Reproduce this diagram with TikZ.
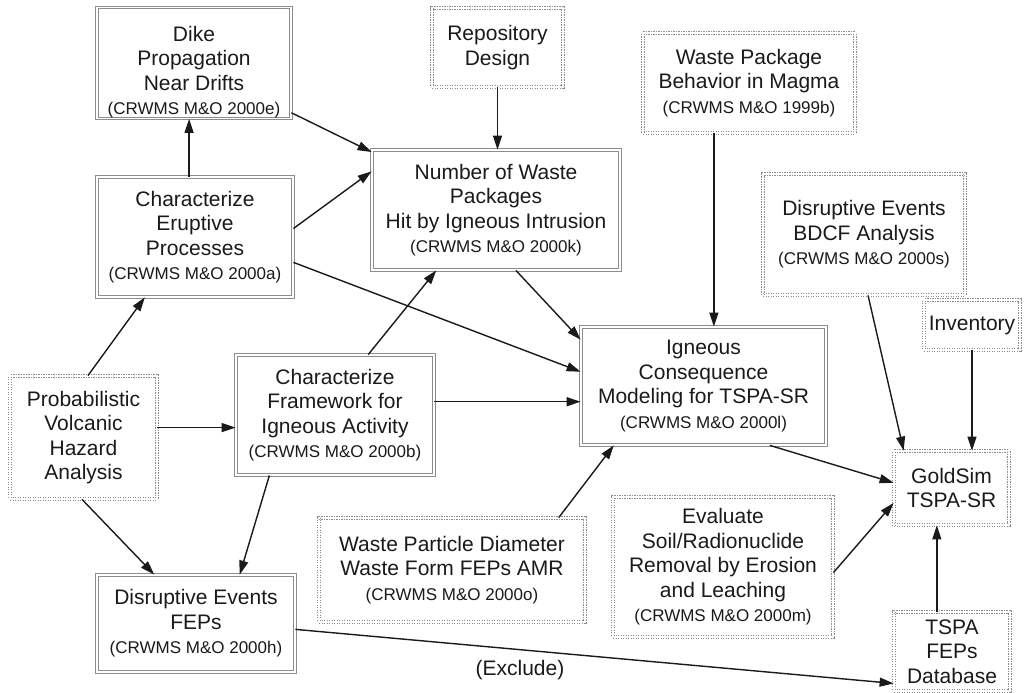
\documentclass[tikz,border=0pt]{standalone}
\usepackage{fontspec}
\setmainfont{Liberation Sans}
\usetikzlibrary{arrows.meta,calc}
\definecolor{boxgray}{HTML}{8C8C8C}
\definecolor{txt}{HTML}{1A1A1A}
\newcommand\mfont{\fontsize{21}{24.5}\selectfont}
\newcommand\cfont{\fontsize{17}{24.5}\selectfont}
\tikzset{
  bx/.style={draw=boxgray, double=white, double distance=1.6pt, line width=0.8pt,
    align=center, inner sep=0pt, font=\mfont, text=txt},
  solidbox/.style={bx},
  dotbox/.style={bx, dash pattern=on 1.2pt off 1.3pt},
  arr/.style={line width=1.4pt, draw=txt, -{Triangle[length=14pt,width=9pt]}},
}
\begin{document}
\begin{tikzpicture}[x=1pt,y=-1pt]
\fill[white] (0,0) rectangle (1026,693);
\useasboundingbox (0,0) rectangle (1026,693);

\node[solidbox, minimum width=194pt, minimum height=110pt] (dike) at (194,63)
  {\rule{0pt}{34pt}Dike\\Propagation\\Near Drifts\\\cfont(CRWMS M\&O 2000e)};
\node[dotbox, minimum width=131pt, minimum height=79pt] (repo) at (497.5,47.5)
  {Repository\\Design};
\node[dotbox, minimum width=212pt, minimum height=100pt] (wpb) at (749,83)
  {Waste Package\\Behavior in Magma\\\cfont(CRWMS M\&O 1999b)};
\node[solidbox, minimum width=196pt, minimum height=120pt] (erupt) at (195,237)
  {Characterize\\Eruptive\\Processes\\\cfont(CRWMS M\&O 2000a)};
\node[solidbox, minimum width=248pt, minimum height=120pt] (number) at (496,210)
  {Number of Waste\\Packages\\Hit by Igneous Intrusion\\\cfont(CRWMS M\&O 2000k)};
\node[dotbox, minimum width=202pt, minimum height=121pt] (bdcf) at (864,234.5)
  {Disruptive Events\\BDCF Analysis\\\cfont(CRWMS M\&O 2000s)};
\node[dotbox, minimum width=96pt, minimum height=50pt] (inv) at (972,325)
  {Inventory};
\node[solidbox, minimum width=245pt, minimum height=118pt] (ign) at (703.5,386)
  {Igneous\\Consequence\\Modeling for TSPA-SR\\\cfont(CRWMS M\&O 2000l)};
\node[dotbox, minimum width=147pt, minimum height=123pt] (pvha) at (83.5,437.5)
  {Probabilistic\\Volcanic\\Hazard\\Analysis};
\node[solidbox, minimum width=198pt, minimum height=120pt] (frame) at (335,415)
  {Characterize\\Framework for\\Igneous Activity\\\cfont(CRWMS M\&O 2000b)};
\node[solidbox, minimum width=198pt, minimum height=97pt] (feps) at (196,623.5)
  {Disruptive Events\\FEPs\\\cfont(CRWMS M\&O 2000h)};
\node[dotbox, minimum width=266pt, minimum height=104pt] (wpart) at (452,570)
  {Waste Particle Diameter\\Waste Form FEPs AMR\\\cfont(CRWMS M\&O 2000o)};
\node[dotbox, minimum width=220pt, minimum height=140pt] (eval) at (723,567)
  {Evaluate\\Soil/Radionuclide\\Removal by Erosion\\and Leaching\\\cfont(CRWMS M\&O 2000m)};
\node[dotbox, minimum width=115pt, minimum height=74pt] (gold) at (951.5,488)
  {GoldSim\\TSPA-SR};
\node[dotbox, minimum width=116pt, minimum height=79pt] (db) at (952,651.5)
  {TSPA\\FEPs\\Database};

% connectors
\coordinate (e1) at ($(erupt.north west)!0.47!(erupt.north east)$);
\draw[arr] (e1) -- (e1 |- dike.south);
\draw[arr] ($(dike.north east)!0.945!(dike.south east)$) -- ($(number.north west)!0.02!(number.south west)$);
\draw[arr] ($(erupt.north east)!0.43!(erupt.south east)$) -- ($(number.north west)!0.18!(number.south west)$);
\draw[arr] ($(erupt.north east)!0.71!(erupt.south east)$) -- ($(ign.north west)!0.38!(ign.south west)$);
\draw[arr] ($(number.south west)!0.58!(number.south east)$) -- ($(ign.north west)!0.11!(ign.south west)$);
\draw[arr] (repo.south) -- (repo.south |- number.north);
\coordinate (w1) at ($(wpb.south west)!0.335!(wpb.south east)$);
\draw[arr] (w1) -- (w1 |- ign.north);
\draw[arr] ($(pvha.north west)!0.53!(pvha.north east)$) -- ($(erupt.south west)!0.245!(erupt.south east)$);
\coordinate (p1) at ($(pvha.north east)!0.42!(pvha.south east)$);
\draw[arr] (p1) -- (p1 -| frame.west);
\draw[arr] ($(pvha.south west)!0.49!(pvha.south east)$) -- ($(feps.north west)!0.29!(feps.north east)$);
\draw[arr] ($(frame.north west)!0.667!(frame.north east)$) -- ($(number.south west)!0.26!(number.south east)$);
\draw[arr] ($(frame.south west)!0.17!(frame.south east)$) -- ($(feps.north west)!0.72!(feps.north east)$);
\coordinate (f1) at ($(frame.north east)!0.39!(frame.south east)$);
\draw[arr] (f1) -- (f1 -| ign.west);
\draw[arr] ($(wpart.north west)!0.9!(wpart.north east)$) -- ($(ign.south west)!0.135!(ign.south east)$);
\draw[arr] ($(ign.south west)!0.77!(ign.south east)$) -- ($(gold.north west)!0.43!(gold.south west)$);
\draw[arr] ($(eval.north east)!0.54!(eval.south east)$) -- ($(gold.north west)!0.70!(gold.south west)$);
\draw[arr] ($(bdcf.south west)!0.52!(bdcf.south east)$) -- ($(gold.north west)!0.087!(gold.north east)$);
\draw[arr] (inv.south) -- (inv.south |- gold.north);
\coordinate (d1) at ($(db.north west)!0.37!(db.north east)$);
\draw[arr] (d1) -- (d1 |- gold.south);
\draw[arr] ($(feps.north east)!0.56!(feps.south east)$) -- ($(db.north west)!0.9!(db.south west)$);
\node[font=\mfont, text=txt] (excl) at (520,670) {(Exclude)};
\end{tikzpicture}
\end{document}
